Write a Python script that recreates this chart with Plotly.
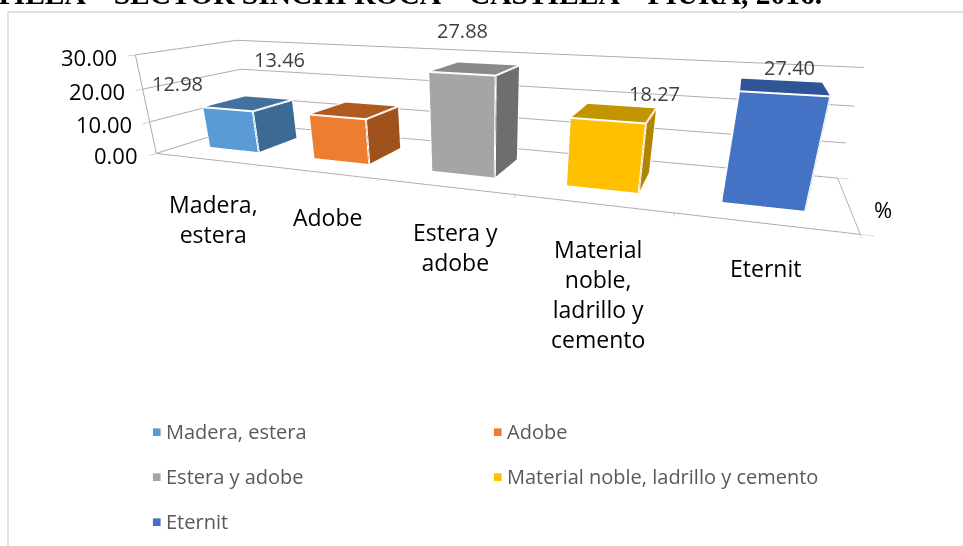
import plotly.graph_objects as go

# Tipo de material de la vivienda (%)
categories = ["Madera, estera", "Adobe", "Estera y adobe",
              "Material noble, ladrillo y cemento", "Eternit"]
axis_labels = ["Madera,<br>estera", "Adobe", "Estera y<br>adobe",
               "Material<br>noble,<br>ladrillo y<br>cemento", "Eternit"]
values = [12.98, 13.46, 27.88, 18.27, 27.40]
z_ticks = [0, 10, 20, 30]
z_tick_labels = ["0.00", "10.00", "20.00", "30.00"]

front_colors = ["#5B9BD5", "#ED7D31", "#A5A5A5", "#FFC000", "#4472C4"]
side_colors = ["#3B6A94", "#A0521C", "#6E6E6E", "#B08500", "#2E5597"]
top_colors = ["#41719C", "#B05A20", "#8A8A8A", "#C29400", "#2F5597"]

# pixel nudges for the value labels and category labels
label_nudge = [(-71, 4), (-76, 35), (-13, 23), (40, 4), (7, 4)]
category_nudge = [7, 9, 10, 5, 2]

FONT = "Open Sans"
GRID = "#ADADAD"
BAR_HALF_W = 0.24
BAR_HALF_D = 0.45

fig = go.Figure()


def cuboid(i, h):
    x0, x1 = i - BAR_HALF_W, i + BAR_HALF_W
    y0, y1 = -BAR_HALF_D, BAR_HALF_D
    xs = [x0, x1, x1, x0, x0, x1, x1, x0]
    ys = [y0, y0, y1, y1, y0, y0, y1, y1]
    zs = [0, 0, 0, 0, h, h, h, h]
    tri = [
        (0, 1, 5), (0, 5, 4),   # front
        (1, 2, 6), (1, 6, 5),   # right
        (4, 5, 6), (4, 6, 7),   # top
        (0, 3, 7), (0, 7, 4),   # left
        (3, 2, 6), (3, 6, 7),   # back
        (0, 1, 2), (0, 2, 3),   # bottom
    ]
    return xs, ys, zs, tri


for i, (name, v) in enumerate(zip(categories, values)):
    xs, ys, zs, tri = cuboid(i, v)
    fc = ([front_colors[i]] * 2 + [side_colors[i]] * 2 + [top_colors[i]] * 2
          + [side_colors[i]] * 6)
    fig.add_trace(go.Mesh3d(
        x=xs, y=ys, z=zs,
        i=[t[0] for t in tri], j=[t[1] for t in tri], k=[t[2] for t in tri],
        facecolor=fc, flatshading=True, name=name,
        lighting=dict(ambient=1, diffuse=0, specular=0, roughness=1, fresnel=0),
        hoverinfo="skip", showlegend=False,
    ))
    # white bevel edges
    edges = [(0, 1), (1, 2), (2, 3), (3, 0), (4, 5), (5, 6), (6, 7), (7, 4),
             (0, 4), (1, 5), (2, 6), (3, 7)]
    ex, ey, ez = [], [], []
    for a, b in edges:
        ex += [xs[a], xs[b], None]
        ey += [ys[a], ys[b], None]
        ez += [zs[a], zs[b], None]
    fig.add_trace(go.Scatter3d(x=ex, y=ey, z=ez, mode="lines",
                               line=dict(color="white", width=4),
                               hoverinfo="skip", showlegend=False))

annotations3d = []
# value labels
for i, v in enumerate(values):
    dx, dy = label_nudge[i]
    annotations3d.append(dict(
        x=i, y=0, z=v, text=f"{v:.2f}", showarrow=False,
        xanchor="center", yanchor="bottom", xshift=dx, yshift=dy,
        font=dict(family=FONT, size=20, color="#404040")))
# category labels
for i, lab in enumerate(axis_labels):
    annotations3d.append(dict(
        x=i, y=-1, z=0, text=lab, showarrow=False,
        xanchor="center", yanchor="top", xshift=category_nudge[i], yshift=-27,
        font=dict(family=FONT, size=23, color="#000000")))
# value axis labels
for t, lab in zip(z_ticks, z_tick_labels):
    annotations3d.append(dict(
        x=-0.5, y=-1, z=t, text=lab, showarrow=False,
        xanchor="right", yanchor="middle", xshift=-16, yshift=-2,
        font=dict(family=FONT, size=22, color="#000000")))
# series axis label
annotations3d.append(dict(
    x=4.5, y=0, z=0, text="%", showarrow=False,
    xanchor="left", yanchor="middle", xshift=24, yshift=-6,
    font=dict(family=FONT, size=22, color="#000000")))

axis_common = dict(showbackground=False, zeroline=False, showspikes=False,
                   title=dict(text=""), showticklabels=False,
                   linecolor=GRID, linewidth=2, tickcolor=GRID)

fig.update_layout(
    width=963, height=546,
    margin=dict(l=0, r=0, t=0, b=0),
    paper_bgcolor="white",
    font=dict(family=FONT),
    hovermode=False,
    scene=dict(
        domain=dict(x=[0, 1], y=[0, 1]),
        bgcolor="white",
        aspectmode="manual",
        aspectratio=dict(x=6.35, y=1.45, z=0.95),
        camera=dict(eye=dict(x=2.18, y=-5.71, z=1.24),
                    center=dict(x=0.28, y=-0.6, z=-1.3),
                    up=dict(x=0, y=0, z=1)),
        xaxis=dict(range=[-0.5, 4.5], tickvals=[-0.5, 0.5, 1.5, 2.5, 3.5, 4.5],
                   ticks="outside", ticklen=8, showgrid=False, showline=True,
                   **axis_common),
        yaxis=dict(range=[-1, 1], tickvals=[-1, 1], ticks="outside", ticklen=8,
                   showgrid=False, showline=True, **axis_common),
        zaxis=dict(range=[0, 30], tickvals=z_ticks, ticks="outside", ticklen=8,
                   showgrid=True, gridcolor=GRID, gridwidth=2,
                   showline=True, **axis_common),
        annotations=annotations3d,
    ),
)

# legend, two columns
legend_cols = [150, 491]
legend_rows = [431, 476, 521]
for k, (name, col) in enumerate(zip(categories, front_colors)):
    px = legend_cols[k % 2]
    py = legend_rows[k // 2]
    fig.add_annotation(xref="paper", yref="paper", x=px / 963, y=1 - py / 546,
                       text="■", showarrow=False, xanchor="left", yanchor="middle",
                       font=dict(family="DejaVu Sans", size=10, color=col))
    fig.add_annotation(xref="paper", yref="paper", x=(px + 14) / 963, y=1 - py / 546,
                       text=name, showarrow=False, xanchor="left", yanchor="middle",
                       font=dict(family=FONT, size=20, color="#595959"))

# heading of the page, cut by the top edge
fig.add_annotation(xref="paper", yref="paper", x=824 / 963, y=1,
                   text="<b>CASTILLA – SECTOR SINCHI ROCA – CASTILLA – PIURA, 2016.</b>",
                   showarrow=False, xanchor="right", yanchor="middle", yshift=6,
                   font=dict(family="Liberation Serif", size=29.5, color="black"))

# chart frame
fig.add_shape(type="rect", xref="paper", yref="paper",
              x0=8 / 963, x1=1.05, y0=-0.05, y1=1 - 12 / 546,
              line=dict(color="#D9D9D9", width=1.5), layer="above")

fig.write_html("out.html")
